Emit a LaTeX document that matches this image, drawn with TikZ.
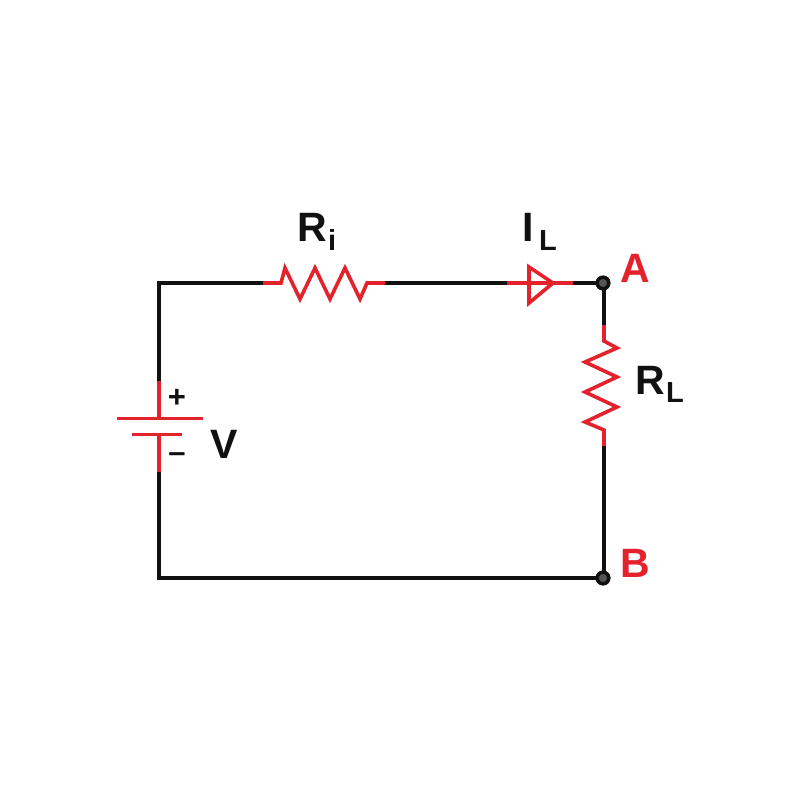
\documentclass[tikz,border=0pt]{standalone}
\usepackage{fontspec}
\setmainfont{Liberation Sans}
\definecolor{wirered}{HTML}{E3222C}
\definecolor{wireblack}{HTML}{111111}
\definecolor{dotgray}{HTML}{555555}
\tikzset{
  wire/.style={draw=wireblack,line width=3.6pt},
  part/.style={draw=wirered,line width=3.6pt,line join=miter},
  terminal/.style={circle,draw=wireblack,fill=dotgray,line width=3.4pt,minimum size=11.5pt,inner sep=0pt},
  big/.style={inner sep=0pt,text=wireblack,font=\fontsize{41}{41}\selectfont\bfseries},
  small/.style={inner sep=0pt,text=wireblack,font=\fontsize{29}{29}\selectfont\bfseries},
  tag/.style={inner sep=0pt,text=wirered,font=\fontsize{41}{41}\selectfont\bfseries},
  sign/.style={inner sep=0pt,text=wireblack,font=\fontsize{31}{31}\selectfont\bfseries}
}
\begin{document}
\begin{tikzpicture}[x=1pt,y=-1pt]
\useasboundingbox[fill=white] (0,0) rectangle (800,800);
% corners and terminals
\coordinate (tl) at (159,283);
\coordinate (bl) at (159,578);
\node[terminal] (A) at (603,283) {};
\node[terminal] (B) at (603,578) {};
% component ends
\coordinate (batTop) at (159,381);
\coordinate (batPos) at (159,418.5);
\coordinate (batNeg) at (159,434.5);
\coordinate (batBot) at (159,472);
\coordinate (riL) at (263,283);
\coordinate (riR) at (385,283);
\coordinate (arrL) at (507,283);
\coordinate (arrR) at (573,283);
\coordinate (rlT) at (604,325);
\coordinate (rlB) at (604,446);
% black wires
\draw[wire] (batTop) -- (tl) -- (riL);
\draw[wire] (riR) -- (arrL);
\draw[wire] (arrR) -- (A.center);
\draw[wire] (A.center -| rlT) -- (rlT);
\draw[wire] (rlB) -- (B.center -| rlB);
\draw[wire] (B.center) -- (bl) -- (batBot);
% battery
\draw[part] (batTop) -- (batPos);
\draw[part] (batNeg) -- (batBot);
\draw[part] (117,418.5) -- (203,418.5);
\draw[part] (132,434.5) -- (182,434.5);
% source resistor
\draw[part] (riL) -- (281,283) -- (285,268) -- (300,299) -- (315,268) -- (330,299) -- (345,268) -- (360,299) -- (367,283) -- (riR);
% current arrow
\draw[part] (arrL) -- (arrR);
\draw[part] (529,267) -- (553,283) -- (529,303) -- cycle;
% load resistor
\draw[part] (rlT) -- (604,341) -- (617,348) -- (585,362) -- (617,377) -- (585,392) -- (617,407) -- (585,422) -- (604,430) -- (rlB);
% terminals on top
\node[terminal] at (A.center) {};
\node[terminal] at (B.center) {};
% labels
\node[sign] (plus) at (177,398) {+};
\node[sign] (minus) at (177,458) {–};
\node[big,anchor=base] (V) at (224,458) {V};
\node[big,anchor=base west] (Ri) at (297,241) {R};
\node[small,anchor=base west] (Risub) at (328,250) {i};
\node[big,anchor=base] (I) at (528,241) {I};
\node[small,anchor=base west] (Ilsub) at (539,250) {L};
\node[tag,anchor=base] (Atext) at (635,282) {A};
\node[tag,anchor=base] (Btext) at (635,577) {B};
\node[big,anchor=base west] (Rl) at (635,394) {R};
\node[small,anchor=base west] (Rlsub) at (666,402) {L};
\end{tikzpicture}
\end{document}
